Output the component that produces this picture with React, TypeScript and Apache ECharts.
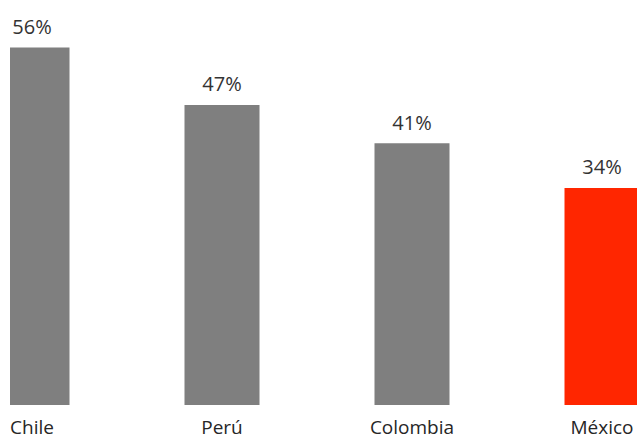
import React, { useEffect, useRef } from "react";
import * as echarts from "echarts";

const categories = ["Chile", "Perú", "Colombia", "México"];
const values = [56, 47, 41, 34];
const barColors = ["#7f7f7f", "#7f7f7f", "#7f7f7f", "#ff2600"];

export default function App() {
  const ref = useRef<HTMLDivElement>(null);
  useEffect(() => {
    document.body.style.margin = "0";
    document.body.style.overflow = "hidden";
    const chart = echarts.init(ref.current!, null, { renderer: "svg" });
    chart.setOption({
      animation: false,
      textStyle: { fontFamily: "Open Sans" },
      grid: { left: 0, right: 0, top: 22, bottom: 34, containLabel: false },
      xAxis: {
        type: "category",
        data: categories,
        axisLine: { show: false },
        axisTick: { show: false },
        axisLabel: {
          color: "#262626",
          fontSize: 19,
          margin: 16,
          lineHeight: 12,
          fontFamily: "Open Sans",
        },
      },
      yAxis: {
        type: "value",
        min: 0,
        max: 60,
        show: false,
        splitLine: { show: false },
      },
      // white margin strip that crops the left edge of the first bar, as in the reference
      graphic: [
        {
          type: "rect",
          z: 100,
          shape: { x: 0, y: 0, width: 73, height: 412 },
          style: { fill: "#ffffff" },
        },
      ],
      series: [
        {
          type: "bar",
          barWidth: 75,
          data: values.map((v, i) => ({ value: v, itemStyle: { color: barColors[i] } })),
          label: {
            show: true,
            position: "top",
            distance: 11,
            formatter: "{c}%",
            color: "#333333",
            fontSize: 20,
            fontFamily: "Open Sans",
          },
        },
      ],
    });
    return () => chart.dispose();
  }, []);
  return (
    <div style={{ position: "absolute", left: 0, top: 0, width: 637, height: 439, overflow: "hidden", background: "#fff" }}>
      <div ref={ref} style={{ position: "absolute", left: -63, top: 0, width: 760, height: 439 }} />
    </div>
  );
}
